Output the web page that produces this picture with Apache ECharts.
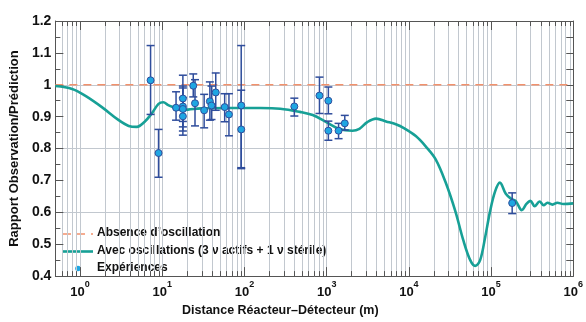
<!DOCTYPE html>
<html>
<head>
<meta charset="utf-8">
<script src="https://cdn.jsdelivr.net/npm/echarts@6/dist/echarts.min.js"></script>
<style>
  html, body { margin: 0; padding: 0; background: #fff; }
  #chart { width: 586px; height: 322px; }
</style>
</head>
<body>
<div id="chart"></div>
<script>
// courbe avec oscillations (3 actifs + 1 stérile)
const curveX = [0.5, 0.8, 1.15, 1.84, 2.95, 3.9, 4.9, 6.1, 7.4, 9.0, 10.3, 11.8, 14, 17, 20.6, 29.5, 68, 156, 272, 473, 676,
  1000, 1435, 2057, 2500, 3120, 4000, 5280, 6940, 8700, 12140, 16000, 21100, 27900, 36800, 46000, 55800, 64100, 73600,
  84700, 97200, 111700, 128000, 151000, 174000, 200000, 236000, 271000, 302000, 339000, 389000, 436000, 486000,
  558000, 641000, 758000, 1000000];
const curveY = [0.996, 0.987, 0.966, 0.93, 0.889, 0.871, 0.868, 0.884, 0.909, 0.94, 0.945, 0.936, 0.929, 0.921, 0.922,
  0.926, 0.927, 0.927, 0.925, 0.915, 0.905, 0.882, 0.861, 0.856, 0.862, 0.883, 0.894, 0.885, 0.876, 0.864, 0.839,
  0.807, 0.767, 0.695, 0.603, 0.512, 0.45, 0.432, 0.45, 0.522, 0.603, 0.665, 0.693, 0.658, 0.643, 0.635, 0.607,
  0.627, 0.636, 0.619, 0.634, 0.622, 0.63, 0.624, 0.63, 0.626, 0.628];

// absence d'oscillation
const noOscX = [0.5, 1000000];
const noOscY = [1, 1];

// expériences : distance, rapport, bas et haut de la barre d'erreur
const expX  = [7.2, 9.0, 14.7, 17.8, 17.8, 17.8, 17.8, 23.8, 25, 32.3, 37.9, 39.7, 44.7, 57.4, 64.7, 91.2, 91.2,
  404, 817, 1048, 1048, 1395, 1660, 180600];
const expY  = [1.014, 0.786, 0.928, 0.957, 0.932, 0.924, 0.901, 0.997, 0.942, 0.92, 0.948, 0.935, 0.976, 0.93, 0.907,
  0.935, 0.86, 0.932, 0.966, 0.95, 0.856, 0.856, 0.879, 0.629];
const expLo = [0.907, 0.71, 0.889, 0.885, 0.868, 0.855, 0.842, 0.962, 0.871, 0.865, 0.889, 0.891, 0.92, 0.884, 0.84,
  0.74, 0.737, 0.902, 0.91, 0.909, 0.826, 0.831, 0.858, 0.596];
const expHi = [1.123, 0.86, 0.978, 1.03, 0.996, 0.99, 0.96, 1.034, 1.016, 0.97, 1.009, 0.996, 1.037, 0.972, 0.972,
  1.123, 0.983, 0.958, 1.024, 0.993, 0.886, 0.879, 0.904, 0.661];

const legendNames = ['Absence d’oscillation', 'Avec oscillations (3 ν actifs + 1 ν stérile)', 'Expériences'];

// graduations secondaires de l'axe log
const minorTicks = [];
for (let e = -1; e < 6; e++) {
  for (let m = 2; m <= 9; m++) {
    const v = m * Math.pow(10, e);
    if (v > 0.5 && v < 1000000) minorTicks.push(v);
  }
}

const font = 'Liberation Sans';
const axisColor = '#555';
const gridColor = '#c2c8cf';
const orange = '#f2916c';
const teal = '#17a096';
const navy = '#2f4d9c';
const dotBlue = '#1fa6e2';

const legendText = (y, txt) => ({
  type: 'text', left: 97, top: y - 7,
  style: { text: txt, fontFamily: font, fontWeight: 'bold', fontSize: 12, fill: '#111' }
});

const chart = echarts.init(document.getElementById('chart'));
chart.setOption({
  animation: false,
  textStyle: { fontFamily: font },
  grid: { left: 53, right: 10, top: 21, bottom: 38 },
  graphic: [
    { type: 'line', shape: { x1: 63, y1: 234, x2: 93, y2: 234 }, style: { stroke: orange, lineWidth: 1.6, lineDash: [8, 6] } },
    legendText(234, legendNames[0]),
    { type: 'line', shape: { x1: 63, y1: 251.5, x2: 93, y2: 251.5 }, style: { stroke: teal, lineWidth: 2.6 } },
    legendText(251.5, legendNames[1]),
    { type: 'circle', shape: { cx: 78, cy: 268.5, r: 2.8 }, style: { fill: dotBlue } },
    legendText(268.5, legendNames[2])
  ],
  xAxis: [
    {
      type: 'log',
      logBase: 10,
      min: 0.5,
      max: 1000000,
      name: 'Distance Réacteur–Détecteur (m)',
      nameLocation: 'middle',
      nameGap: 19,
      nameTextStyle: { fontFamily: font, fontWeight: 'bold', fontSize: 12.5, color: '#111', padding: [0, 68, 0, 0] },
      axisLine: { lineStyle: { color: axisColor, width: 1 } },
      axisTick: { inside: true, length: 9, lineStyle: { color: axisColor } },
      splitLine: { show: true, lineStyle: { color: gridColor, width: 1 } },
      axisLabel: {
        margin: 4,
        showMinLabel: false,
        formatter: v => {
          const e = Math.round(Math.log10(v));
          if (Math.abs(Math.log10(v) - e) > 1e-6) return '';
          return '{b|10}{s|' + e + '}';
        },
        rich: {
          b: { fontFamily: font, fontWeight: 'bold', fontSize: 13, color: '#111', lineHeight: 19, verticalAlign: 'bottom' },
          s: { fontFamily: font, fontWeight: 'bold', fontSize: 9, color: '#111', lineHeight: 11, verticalAlign: 'top' }
        }
      }
    },
    {
      type: 'log',
      logBase: 10,
      min: 0.5,
      max: 1000000,
      position: 'top',
      axisLine: { lineStyle: { color: axisColor, width: 1 } },
      axisTick: { inside: true, length: 9, lineStyle: { color: axisColor } },
      axisLabel: { show: false },
      splitLine: { show: false }
    }
  ],
  yAxis: [
    {
      type: 'value',
      min: 0.4,
      max: 1.2,
      interval: 0.1,
      name: 'Rapport Observation/Prédiction',
      nameLocation: 'middle',
      nameGap: 30,
      nameTextStyle: { fontFamily: font, fontWeight: 'bold', fontSize: 13, color: '#111' },
      axisLine: { show: true, lineStyle: { color: axisColor, width: 1 } },
      axisTick: { inside: true, length: 8, lineStyle: { color: axisColor } },
      minorTick: { show: true, splitNumber: 2, length: 5, lineStyle: { color: axisColor } },
      splitLine: { show: false },
      axisLabel: { fontFamily: font, fontWeight: 'bold', fontSize: 14, color: '#111', margin: 4 }
    },
    {
      type: 'value',
      min: 0.4,
      max: 1.2,
      interval: 0.1,
      position: 'right',
      axisLine: { show: true, lineStyle: { color: axisColor, width: 1 } },
      axisTick: { inside: true, length: 7, lineStyle: { color: axisColor } },
      minorTick: { show: true, splitNumber: 2, length: 7, lineStyle: { color: axisColor } },
      splitLine: { show: false },
      axisLabel: { show: false }
    },
    {
      type: 'value',
      min: 0.4,
      max: 1.2,
      interval: 0.2,
      axisLine: { show: false },
      axisTick: { show: false },
      axisLabel: { show: false },
      splitLine: { show: true, lineStyle: { color: gridColor, width: 1 } }
    }
  ],
  series: [
    {
      // grille verticale secondaire + petites graduations
      type: 'custom',
      silent: true,
      z: 0,
      data: minorTicks.map(v => [v, 1]),
      renderItem: (params, api) => {
        const x = Math.round(api.coord([api.value(0), 1])[0]) + 0.5;
        const top = params.coordSys.y;
        const bottom = top + params.coordSys.height;
        return {
          type: 'group',
          children: [
            { type: 'line', shape: { x1: x, y1: top, x2: x, y2: bottom }, style: { stroke: gridColor, lineWidth: 1 } },
            { type: 'line', shape: { x1: x, y1: bottom, x2: x, y2: bottom - 5 }, style: { stroke: axisColor, lineWidth: 1 } },
            { type: 'line', shape: { x1: x, y1: top, x2: x, y2: top + 5 }, style: { stroke: axisColor, lineWidth: 1 } }
          ]
        };
      }
    },
    {
      name: legendNames[0],
      type: 'line',
      symbol: 'none',
      z: 2,
      data: noOscX.map((x, i) => [x, noOscY[i]]),
      lineStyle: { color: orange, width: 1.6, type: [8, 6] }
    },
    {
      name: legendNames[1],
      type: 'line',
      symbol: 'none',
      smooth: 0.35,
      z: 3,
      data: curveX.map((x, i) => [x, curveY[i]]),
      lineStyle: { color: teal, width: 2.6 }
    },
    {
      // barres d'erreur
      type: 'custom',
      z: 4,
      silent: true,
      data: expX.map((x, i) => [x, expY[i], expLo[i], expHi[i]]),
      renderItem: (params, api) => {
        const lo = api.coord([api.value(0), api.value(2)]);
        const hi = api.coord([api.value(0), api.value(3)]);
        const style = { stroke: navy, lineWidth: 1.5 };
        return {
          type: 'group',
          children: [
            { type: 'line', shape: { x1: lo[0], y1: lo[1], x2: hi[0], y2: hi[1] }, style },
            { type: 'line', shape: { x1: lo[0] - 4, y1: lo[1], x2: lo[0] + 4, y2: lo[1] }, style },
            { type: 'line', shape: { x1: hi[0] - 4, y1: hi[1], x2: hi[0] + 4, y2: hi[1] }, style }
          ]
        };
      }
    },
    {
      name: legendNames[2],
      type: 'scatter',
      z: 5,
      symbolSize: 7,
      data: expX.map((x, i) => [x, expY[i]]),
      itemStyle: { color: dotBlue, borderColor: navy, borderWidth: 1, opacity: 1 }
    }
  ]
});
</script>
</body>
</html>
